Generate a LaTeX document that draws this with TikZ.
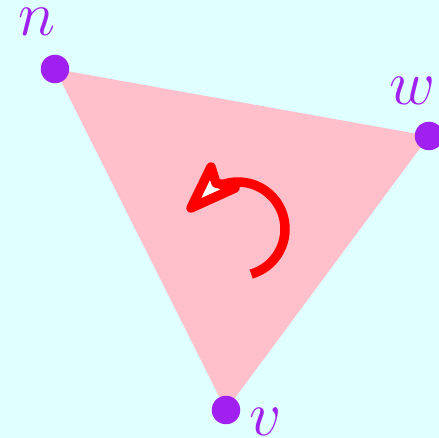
\documentclass[tikz,border=0pt]{standalone}
\usepackage{fix-cm}
\usetikzlibrary{calc}
\definecolor{bgcyan}{HTML}{E0FFFF}
\definecolor{tripink}{HTML}{FFC0CB}
\definecolor{dotpurple}{HTML}{A020F0}
\begin{document}
\begin{tikzpicture}[x=0.02cm, y=-0.02cm,
  dot/.style={circle, fill=dotpurple, inner sep=0pt, minimum size=0.57cm},
  lbl/.style={text=dotpurple, inner sep=0pt, font=\fontsize{36}{40}\selectfont},
  turn/.style={draw=red, line width=0.19cm}]
  % 背景
  \fill[bgcyan] (0,0) rectangle (439,438);
  \useasboundingbox (0,0) rectangle (439,438);

  % 顶点坐标
  \coordinate (n) at (55, 69);
  \coordinate (w) at (429, 136);
  \coordinate (v) at (226, 410);
  \coordinate (c) at (238, 229);

  % 三角形
  \fill[tripink] (n) -- (w) -- (v) -- cycle;

  % 定向箭头
  \draw[turn] ($(c)+(73.7:47)$) arc[start angle=73.7, end angle=-110, radius=47];
  \draw[turn, fill=white, line join=round]
    (191, 208) -- (211, 167) -- (216, 183) -- (235, 188) -- cycle;

  % 节点定义
  \node[dot] (dn) at (n) {};
  \node[dot] (dw) at (w) {};
  \node[dot] (dv) at (v) {};
  \node[lbl] (ln) at (37, 22) {$n$};
  \node[lbl] (lw) at (412, 91) {$w$};
  \node[lbl] (lv) at (266, 422) {$v$};
\end{tikzpicture}
\end{document}
